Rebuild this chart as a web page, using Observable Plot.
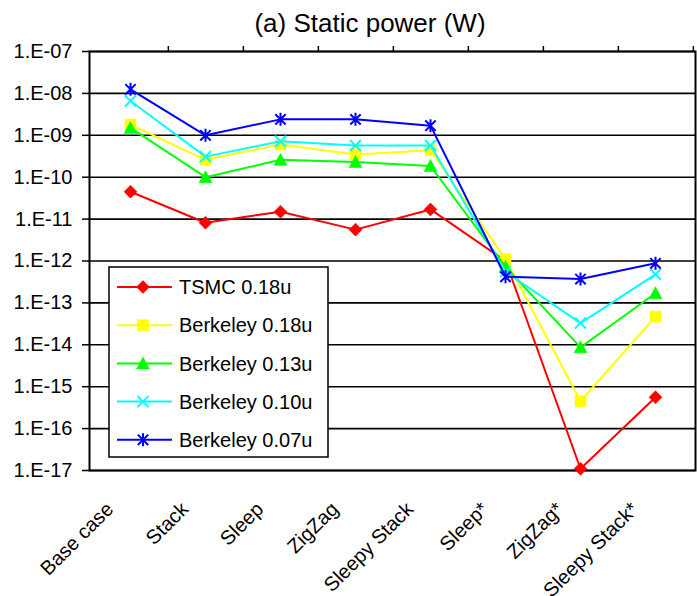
<!DOCTYPE html>
<html>
<head>
<meta charset="utf-8">
<script src="https://cdn.jsdelivr.net/npm/d3@7"></script>
<script src="https://cdn.jsdelivr.net/npm/@observablehq/plot@0.6"></script>
<style>
  html, body { margin: 0; padding: 0; background: #fff; }
  #chart { position: relative; width: 697px; height: 596px; font-family: "Liberation Sans", Arial, sans-serif; }
  #title { position: absolute; top: 10px; left: 370px; transform: translateX(-50%); font-size: 26px; line-height: 26px; white-space: nowrap; color: #000; }
</style>
</head>
<body>
<div id="chart"><div id="title">(a) Static power (W)</div></div>
<script>
// Circuit techniques on the x axis
const categories = ["Base case", "Stack", "Sleep", "ZigZag", "Sleepy Stack", "Sleep*", "ZigZag*", "Sleepy Stack*"];

// Static power (W) per technique, one array per process
const tsmc018 = [4.5e-11, 8.2e-12, 1.5e-11, 5.6e-12, 1.7e-11, 1.0e-12, 1.1e-17, 5.6e-16];
const berkeley018 = [1.8e-9, 2.6e-10, 6.0e-10, 3.5e-10, 4.4e-10, 1.1e-12, 4.5e-16, 4.7e-14];
const berkeley013 = [1.5e-9, 1.0e-10, 2.6e-10, 2.3e-10, 1.85e-10, 7.3e-13, 8.7e-15, 1.7e-13];
const berkeley010 = [6.6e-9, 3.1e-10, 7.2e-10, 5.7e-10, 5.7e-10, 5.5e-13, 3.3e-14, 4.8e-13];
const berkeley007 = [1.25e-8, 1.0e-9, 2.4e-9, 2.4e-9, 1.7e-9, 4.2e-13, 3.7e-13, 8.8e-13];

const seriesNames = ["TSMC 0.18u", "Berkeley 0.18u", "Berkeley 0.13u", "Berkeley 0.10u", "Berkeley 0.07u"];
const seriesColors = ["#ff0000", "#ffff00", "#00ff00", "#00ffff", "#0000ff"];

// Decade ticks of the log axis and their labels
const decades = [1e-7, 1e-8, 1e-9, 1e-10, 1e-11, 1e-12, 1e-13, 1e-14, 1e-15, 1e-16, 1e-17];
const decadeLabels = ["1.E-07", "1.E-08", "1.E-09", "1.E-10", "1.E-11", "1.E-12", "1.E-13", "1.E-14", "1.E-15", "1.E-16", "1.E-17"];

// Marker shapes (half-extent = sqrt(size / PI))
const half = size => Math.sqrt(size / Math.PI);
const diamond = {draw(c, size) { const r = half(size); c.moveTo(0, -r); c.lineTo(r, 0); c.lineTo(0, r); c.lineTo(-r, 0); c.closePath(); }};
const square = {draw(c, size) { const r = half(size); c.rect(-r, -r, 2 * r, 2 * r); }};
const triangle = {draw(c, size) { const r = half(size); c.moveTo(0, -r); c.lineTo(r, r * 0.85); c.lineTo(-r, r * 0.85); c.closePath(); }};
const cross = {draw(c, size) { const r = half(size); c.moveTo(-r, -r); c.lineTo(r, r); c.moveTo(-r, r); c.lineTo(r, -r); }};
const star = {draw(c, size) { const r = half(size); const d = r * 0.8; c.moveTo(0, -r); c.lineTo(0, r); c.moveTo(-d, -d); c.lineTo(d, d); c.moveTo(-d, d); c.lineTo(d, -d); }};

const seriesValues = [tsmc018, berkeley018, berkeley013, berkeley010, berkeley007];
const markers = [
  {symbol: diamond, r: 6.5, filled: true},
  {symbol: square, r: 5.5, filled: true},
  {symbol: triangle, r: 6.5, filled: true},
  {symbol: cross, r: 5.5, filled: false},
  {symbol: star, r: 6.5, filled: false}
];

const W = 697, H = 596;
const margin = {left: 89, right: 2, top: 51, bottom: 126};
const step = (W - margin.left - margin.right) / categories.length;

const seriesMarks = seriesValues.flatMap((vals, i) => {
  const rows = vals.map((v, j) => ({cat: categories[j], v}));
  const m = markers[i];
  return [
    Plot.line(rows, {x: "cat", y: "v", stroke: seriesColors[i], strokeWidth: 2}),
    Plot.dot(rows, {
      x: "cat", y: "v", symbol: m.symbol, r: m.r,
      fill: m.filled ? seriesColors[i] : "none",
      stroke: seriesColors[i], strokeWidth: m.filled ? 0.5 : 2
    })
  ];
});

const chart = Plot.plot({
  width: W,
  height: H,
  marginLeft: margin.left,
  marginRight: margin.right,
  marginTop: margin.top,
  marginBottom: margin.bottom,
  style: {fontFamily: '"Liberation Sans", Arial, sans-serif', fontSize: "20px", color: "#000", background: "#fff", overflow: "visible"},
  x: {type: "point", domain: categories, padding: 0.5, axis: null},
  y: {type: "log", domain: [1e-17, 1e-7], axis: null},
  marks: [
    Plot.ruleY(decades, {stroke: "#000", strokeWidth: 1.6}),
    Plot.frame({stroke: "#000", strokeWidth: 2}),
    Plot.axisY({anchor: "left", ticks: decades, tickFormat: d => decadeLabels[decades.indexOf(d)], tickSize: 7, tickPadding: 10, fontSize: 20, strokeWidth: 1.5, label: null}),
    Plot.axisX({anchor: "top", tickSize: 6, tickFormat: () => "", dx: step / 2, strokeWidth: 1.5, label: null}),
    Plot.text(categories, {x: d => d, frameAnchor: "bottom", rotate: -45, textAnchor: "end", lineAnchor: "bottom", dx: -16, dy: 40, fontSize: 20, fill: "#000"}),
    ...seriesMarks
  ]
});

document.getElementById("chart").appendChild(chart);

// Legend box drawn inside the plot area
const svg = d3.select(chart);
const lg = svg.append("g").attr("transform", "translate(109,267)");
lg.append("rect").attr("width", 219).attr("height", 190).attr("fill", "#fff").attr("stroke", "#000").attr("stroke-width", 1.5);
seriesNames.forEach((name, i) => {
  const y = 20 + i * 38.2;
  const m = markers[i];
  const g = lg.append("g").attr("transform", `translate(0,${y})`);
  g.append("line").attr("x1", 8).attr("x2", 63).attr("y1", 0).attr("y2", 0).attr("stroke", seriesColors[i]).attr("stroke-width", 2);
  g.append("path")
    .attr("transform", "translate(34,0)")
    .attr("d", d3.symbol(m.symbol, Math.PI * m.r * m.r)())
    .attr("fill", m.filled ? seriesColors[i] : "none")
    .attr("stroke", seriesColors[i])
    .attr("stroke-width", m.filled ? 0.5 : 2);
  g.append("text").attr("x", 70).attr("y", 0).attr("dy", "0.36em").attr("text-anchor", "start").attr("font-size", 20).attr("fill", "#000").text(name);
});
</script>
</body>
</html>
